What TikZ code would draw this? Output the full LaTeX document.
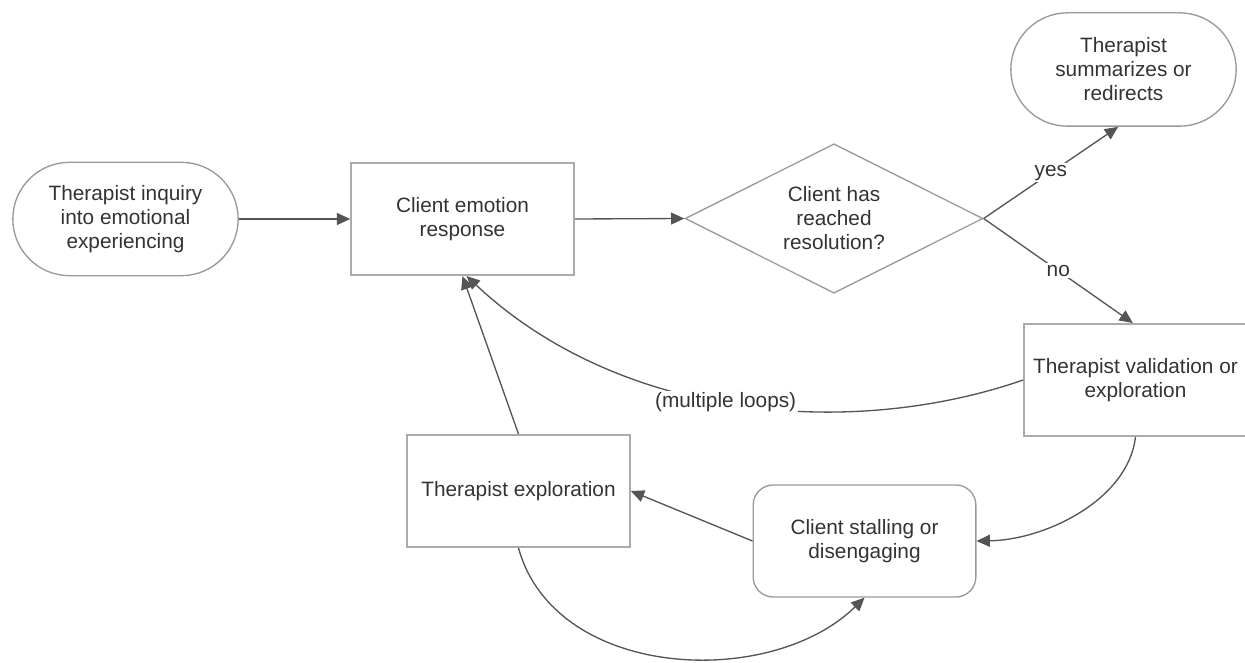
\documentclass[tikz,border=0pt]{standalone}
\usepackage{fontspec}
\setmainfont{Liberation Sans}
\usetikzlibrary{shapes.geometric,arrows.meta}
\definecolor{txt}{HTML}{333333}
\definecolor{bord}{HTML}{ABABAB}
\definecolor{bordthin}{HTML}{999999}
\definecolor{arr}{HTML}{555555}
\begin{document}
\begin{tikzpicture}[x=0.75pt,y=-0.75pt,
  every node/.style={font=\fontsize{15.6}{18}\selectfont, text=txt, align=center},
  boxrect/.style={draw=bord, line width=1.5pt, fill=white, minimum width=167pt, minimum height=84pt, inner sep=0pt},
  stadium/.style={draw=bordthin, line width=1pt, fill=white, rounded corners=42.5pt, minimum width=169pt, minimum height=85pt, inner sep=0pt},
  roundbox/.style={draw=bordthin, line width=1pt, fill=white, rounded corners=15pt, minimum width=167pt, minimum height=84pt, inner sep=0pt},
  decision/.style={diamond, aspect=2, draw=bordthin, line width=1pt, fill=white, minimum width=223.5pt, minimum height=112pt, inner sep=0pt},
  conn/.style={draw=arr, line width=1pt, -{Triangle[length=10pt,width=9pt]}},
  lbl/.style={fill=white, inner sep=1.5pt}
]
\path[fill=white] (0,0) rectangle (1245,663);
\useasboundingbox (0,0) rectangle (1245,663);

\node[stadium] (inq) at (125.5,219) {Therapist inquiry\\into emotional\\experiencing};
\node[boxrect] (resp) at (462.5,219) {Client emotion\\response};
\node[decision] (dec) at (834,218.5) {Client has\\reached\\resolution?};
\node[stadium] (summ) at (1123.5,69.5) {Therapist\\summarizes or\\redirects};
\node[boxrect] (valid) at (1135.5,380) {Therapist validation or\\exploration};
\node[boxrect] (expl) at (518.5,491) {Therapist exploration};
\node[roundbox] (stall) at (864.5,541) {Client stalling or\\disengaging};

\draw[conn] (inq.east) -- (resp.west);
\draw[conn] (resp.east) -- (dec.west);
\draw[conn] (dec.east) -- node[lbl] {yes} ([xshift=-4pt]summ.south);
\draw[conn] (dec.east) -- node[lbl] {no} ([xshift=-2pt]valid.north);
\draw[conn] (valid.west) .. controls (850,440) and (620,420) .. node[lbl, pos=0.52] {(multiple loops)} ([xshift=3pt]resp.south);
\draw[conn] (valid.south) .. controls (1128,500) and (1045,540) .. (stall.east);
\draw[conn] (stall.west) -- (expl.east);
\draw[conn] (expl.north) -- (resp.south);
\draw[conn] (expl.south) .. controls (555,680) and (770,690) .. (stall.south);
\end{tikzpicture}
\end{document}
